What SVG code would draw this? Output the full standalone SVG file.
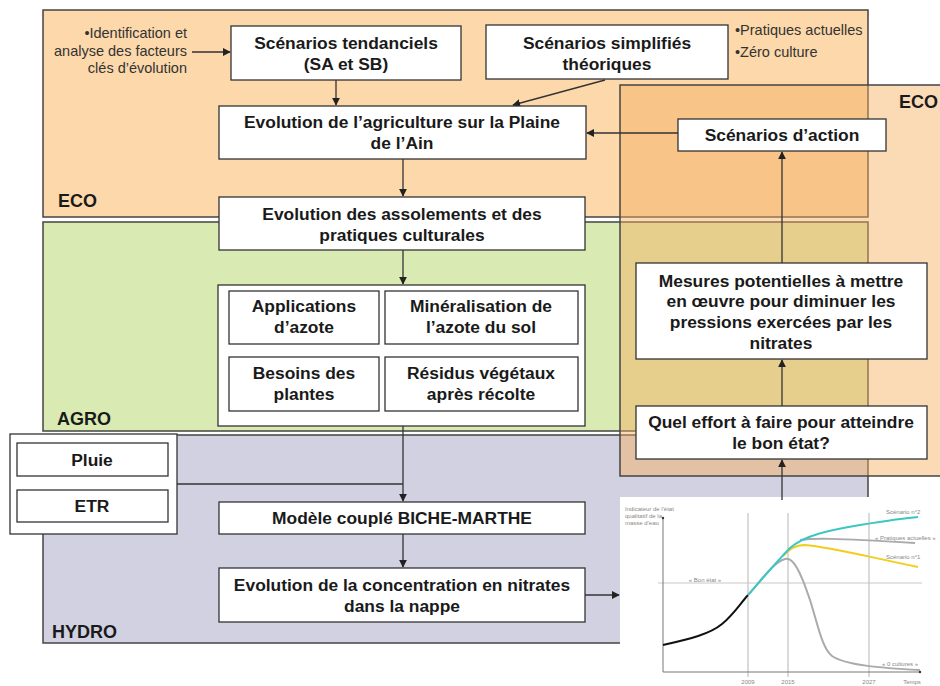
<svg xmlns="http://www.w3.org/2000/svg" width="940" height="686" viewBox="0 0 940 686">
<defs>
<marker id="ah" viewBox="0 0 10 10" refX="9" refY="5" markerWidth="8" markerHeight="8" markerUnits="userSpaceOnUse" orient="auto">
<path d="M0,0 L10,5 L0,10 z" fill="#222"/>
</marker>
<style>
.panel{stroke:#444;stroke-width:1.5}
.box{fill:#fff;stroke:#333;stroke-width:1.3}
.t{font-family:"Liberation Sans",Arial,sans-serif;font-size:17.4px;font-weight:bold;fill:#1a1a1a;text-anchor:middle}
.lab{font-family:"Liberation Sans",Arial,sans-serif;font-size:18px;font-weight:bold;fill:#1a1a1a}
.note{font-family:"Liberation Sans",Arial,sans-serif;font-size:14.5px;fill:#333}
.conn{stroke:#333;stroke-width:1.3;fill:none}
.small{font-family:"Liberation Sans",Arial,sans-serif;font-size:6px;fill:#888}
</style>
</defs>

<g id="panels">
<rect id="panel-eco" class="panel" x="43" y="10" width="825" height="207" fill="#FCD8AA"/>
<rect id="panel-agro" class="panel" x="43" y="222" width="825" height="209" fill="#D9EBB2"/>
<rect id="panel-hydro" class="panel" x="43" y="435" width="825" height="208" fill="#D1D1E1"/>
<rect id="panel-eco-right" x="620" y="85" width="330" height="391" fill="#F6AE5E" fill-opacity="0.45" stroke="#444" stroke-width="1.5"/>
<text class="lab" x="58" y="207">ECO</text>
<text class="lab" x="57" y="425">AGRO</text>
<text class="lab" x="52" y="638">HYDRO</text>
<text class="lab" x="899" y="108">ECO</text>
</g>

<g id="chart">
<rect x="620" y="497" width="320" height="189" fill="#fff"/>
<g stroke="#b5b5b5" stroke-width="1">
<line x1="748" y1="513" x2="748" y2="677"/>
<line x1="788" y1="513" x2="788" y2="677"/>
<line x1="869" y1="513" x2="869" y2="677"/>
<line x1="658" y1="583" x2="922" y2="583" stroke="#c8c8c8"/>
</g>
<line x1="663" y1="518" x2="663" y2="672" stroke="#777" stroke-width="1"/>
<line x1="663" y1="672" x2="920" y2="672" stroke="#777" stroke-width="1"/>
<circle cx="663" cy="518" r="1.2" fill="#333"/>
<circle cx="920" cy="672" r="1.2" fill="#333"/>
<path d="M663,645 C690,639 710,634 722,624 C733,615 740,604 748,595" fill="none" stroke="#111" stroke-width="2"/>
<path d="M748,595 C760,582 772,563 785,559 C793,557 800,570 810,600 C818,625 822,648 832,656 C845,665 880,668 920,670" fill="none" stroke="#aaa" stroke-width="2"/>
<path d="M800,540 C815,538 830,538 915,543" fill="none" stroke="#aaa" stroke-width="2"/>
<path d="M783,556 C790,549 795,545 805,545 C830,547 860,555 918,567" fill="none" stroke="#F2CE1C" stroke-width="2"/>
<path d="M748,595 C765,576 778,560 790,548 C805,535 830,530 860,525 C885,521 905,518 918,517" fill="none" stroke="#3CC6C4" stroke-width="2"/>
<text class="small" x="625" y="511">Indicateur de l'état</text>
<text class="small" x="625" y="518">qualitatif de la</text>
<text class="small" x="625" y="525">masse d'eau</text>
<text class="small" x="705" y="582" text-anchor="middle">« Bon état »</text>
<text class="small" x="886" y="514" fill="#3CC6C4">Scénario n°2</text>
<text class="small" x="875" y="540">« Pratiques actuelles »</text>
<text class="small" x="886" y="559" fill="#E0B800">Scénario n°1</text>
<text class="small" x="882" y="666">« 0 cultures »</text>
<text class="small" x="748" y="684" text-anchor="middle">2009</text>
<text class="small" x="788" y="684" text-anchor="middle">2015</text>
<text class="small" x="869" y="684" text-anchor="middle">2027</text>
<text class="small" x="912" y="684" text-anchor="middle">Temps</text>
</g>

<g id="connectors">
<line class="conn" x1="192" y1="52" x2="230" y2="52" marker-end="url(#ah)"/>
<line class="conn" x1="336" y1="80" x2="336" y2="105" marker-end="url(#ah)"/>
<line class="conn" x1="605" y1="80" x2="513" y2="105" marker-end="url(#ah)"/>
<line class="conn" x1="678" y1="133" x2="587" y2="133" marker-end="url(#ah)"/>
<line class="conn" x1="403" y1="159" x2="403" y2="196" marker-end="url(#ah)"/>
<line class="conn" x1="403" y1="250" x2="403" y2="284" marker-end="url(#ah)"/>
<line class="conn" x1="403" y1="426" x2="403" y2="501" marker-end="url(#ah)"/>
<line class="conn" x1="177" y1="484" x2="403" y2="484"/>
<line class="conn" x1="403" y1="534" x2="403" y2="567" marker-end="url(#ah)"/>
<line class="conn" x1="585" y1="595" x2="619" y2="595" marker-end="url(#ah)"/>
<line class="conn" x1="782" y1="263" x2="782" y2="152" marker-end="url(#ah)"/>
<line class="conn" x1="782" y1="406" x2="782" y2="360" marker-end="url(#ah)"/>
<line class="conn" x1="782" y1="500" x2="782" y2="460" marker-end="url(#ah)"/>
</g>

<g id="note-facteurs">
<text class="note" x="187" y="38" text-anchor="end">•Identification et</text>
<text class="note" x="187" y="56" text-anchor="end">analyse des facteurs</text>
<text class="note" x="187" y="73" text-anchor="end">clés d’évolution</text>
</g>
<g id="note-pratiques">
<text class="note" x="735" y="35">•Pratiques actuelles</text>
<text class="note" x="735" y="57">•Zéro culture</text>
</g>

<g id="scen-tendanciels">
<rect class="box" x="231" y="26" width="230" height="54"/>
<text class="t" x="346" y="49">Scénarios tendanciels</text>
<text class="t" x="346" y="70">(SA et SB)</text>
</g>
<g id="scen-simplifies">
<rect class="box" x="486" y="25" width="242" height="54"/>
<text class="t" x="607" y="49">Scénarios simplifiés</text>
<text class="t" x="607" y="70">théoriques</text>
</g>
<g id="evol-agri">
<rect class="box" x="219" y="106" width="367" height="53"/>
<text class="t" x="402" y="128">Evolution de l’agriculture sur la Plaine</text>
<text class="t" x="402" y="149">de l’Ain</text>
</g>
<g id="scen-action">
<rect class="box" x="678" y="119" width="208" height="32"/>
<text class="t" x="782" y="141">Scénarios d’action</text>
</g>
<g id="evol-assolements">
<rect class="box" x="219" y="197" width="366" height="53"/>
<text class="t" x="402" y="220">Evolution des assolements et des</text>
<text class="t" x="402" y="241">pratiques culturales</text>
</g>
<g id="facteurs-azote">
<rect class="box" x="218" y="285" width="367" height="141"/>
<g id="applications">
<rect class="box" x="229" y="291" width="150" height="53"/>
<text class="t" x="304" y="312">Applications</text>
<text class="t" x="304" y="333">d’azote</text>
</g>
<g id="mineralisation">
<rect class="box" x="385" y="291" width="193" height="53"/>
<text class="t" x="481" y="312">Minéralisation de</text>
<text class="t" x="481" y="333">l’azote du sol</text>
</g>
<g id="besoins">
<rect class="box" x="229" y="357" width="150" height="54"/>
<text class="t" x="304" y="379">Besoins des</text>
<text class="t" x="304" y="400">plantes</text>
</g>
<g id="residus">
<rect class="box" x="385" y="357" width="193" height="54"/>
<text class="t" x="481" y="379">Résidus végétaux</text>
<text class="t" x="481" y="400">après récolte</text>
</g>
</g>
<g id="climat">
<rect class="box" x="10" y="434" width="167" height="100"/>
<g id="pluie">
<rect class="box" x="17" y="443" width="151" height="33"/>
<text class="t" x="92" y="466">Pluie</text>
</g>
<g id="etr">
<rect class="box" x="17" y="490" width="151" height="32"/>
<text class="t" x="92" y="512">ETR</text>
</g>
</g>
<g id="modele">
<rect class="box" x="219" y="502" width="366" height="32"/>
<text class="t" x="402" y="524">Modèle couplé BICHE-MARTHE</text>
</g>
<g id="evol-concentration">
<rect class="box" x="219" y="568" width="366" height="54"/>
<text class="t" x="402" y="591">Evolution de la concentration en nitrates</text>
<text class="t" x="402" y="612">dans la nappe</text>
</g>
<g id="mesures">
<rect class="box" x="636" y="263" width="291" height="96"/>
<text class="t" x="781" y="287">Mesures potentielles à mettre</text>
<text class="t" x="781" y="307">en œuvre pour diminuer les</text>
<text class="t" x="781" y="328">pressions exercées par les</text>
<text class="t" x="781" y="349">nitrates</text>
</g>
<g id="effort">
<rect class="box" x="636" y="406" width="291" height="53"/>
<text class="t" x="781" y="428">Quel effort à faire pour atteindre</text>
<text class="t" x="781" y="449">le bon état?</text>
</g>
</svg>
